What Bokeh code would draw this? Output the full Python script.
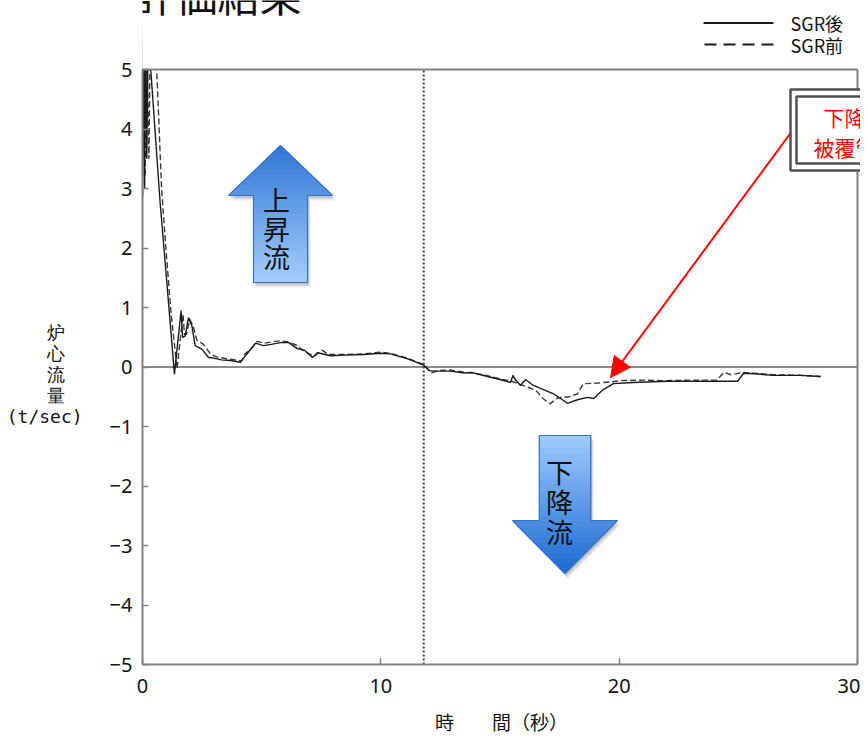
from bokeh.plotting import figure
from bokeh.models import (Range1d, FixedTicker, Label, Arrow, NormalHead, BoxAnnotation)
from bokeh.embed import file_html
from bokeh.resources import INLINE

# ---------------- data ----------------
t_after = [0.00, 0.04, 0.09, 0.13, 0.18, 0.24, 0.74, 0.95, 1.15, 1.34, 1.62, 1.68, 1.79, 1.93,
           2.07, 2.21, 2.49, 2.77, 3.00, 3.30, 3.69, 4.11, 4.32, 4.74, 5.08, 5.40, 5.79, 6.13,
           6.50, 6.80, 7.13, 7.34, 7.89, 8.50, 9.27, 9.99, 10.40, 11.10, 11.80, 12.04, 12.20,
           12.92, 13.50, 13.80, 14.18, 15.00, 15.44, 15.55, 15.65, 15.86, 16.07, 16.40, 17.25,
           17.83, 18.25, 18.67, 18.93, 19.30, 19.76, 20.60, 22.00, 24.10, 24.97, 25.22, 25.50,
           26.50, 27.60, 28.45]
q_after = [2.88, 5.80, 3.00, 5.80, 3.50, 5.60, 2.76, 1.76, 0.80, -0.12, 0.95, 0.50, 0.52, 0.83,
           0.70, 0.36, 0.30, 0.16, 0.15, 0.12, 0.11, 0.08, 0.19, 0.40, 0.36, 0.38, 0.41, 0.41,
           0.31, 0.28, 0.16, 0.24, 0.19, 0.20, 0.21, 0.23, 0.22, 0.14, 0.03, -0.06, -0.07,
           -0.07, -0.10, -0.09, -0.13, -0.21, -0.26, -0.14, -0.22, -0.31, -0.21, -0.31, -0.45,
           -0.61, -0.55, -0.51, -0.53, -0.39, -0.28, -0.26, -0.24, -0.24, -0.24, -0.11, -0.11,
           -0.14, -0.14, -0.16]

t_before = [0.00, 0.05, 0.11, 0.16, 0.27, 0.33, 0.50, 0.62, 0.80, 1.00, 1.20, 1.45, 1.58, 1.70,
            1.76, 1.85, 1.98, 2.12, 2.28, 2.56, 2.85, 3.10, 3.50, 3.90, 4.15, 4.30, 4.55, 4.80,
            5.10, 5.40, 5.75, 6.10, 6.45, 6.55, 7.00, 7.20, 7.55, 7.80, 8.50, 9.30, 10.00,
            10.40, 11.10, 11.80, 12.10, 12.40, 12.90, 13.50, 14.20, 15.00, 15.50, 15.90, 16.50,
            16.80, 17.10, 17.40, 17.90, 18.25, 18.50, 19.10, 19.64, 20.05, 21.00, 22.00, 23.00,
            24.10, 24.40, 24.70, 25.20, 25.50, 26.50, 27.60, 28.45]
q_before = [2.88, 5.60, 3.20, 5.80, 3.50, 5.70, 5.60, 4.78, 3.00, 1.90, 0.90, -0.03, 0.45, 0.88,
            0.55, 0.55, 0.80, 0.70, 0.45, 0.38, 0.22, 0.17, 0.14, 0.12, 0.10, 0.22, 0.30, 0.43,
            0.40, 0.42, 0.44, 0.42, 0.37, 0.33, 0.22, 0.18, 0.28, 0.21, 0.21, 0.22, 0.25,
            0.23, 0.15, 0.04, -0.10, -0.06, -0.05, -0.09, -0.12, -0.20, -0.24, -0.30, -0.39,
            -0.53, -0.62, -0.52, -0.50, -0.45, -0.28, -0.27, -0.25, -0.23, -0.22, -0.23, -0.22,
            -0.22, -0.09, -0.13, -0.09, -0.10, -0.13, -0.14, -0.16]

series_names = ["SGR後", "SGR前"]
x_ticks = [0, 10, 20, 30]
x_tick_labels = ["0", "10", "20", "30"]
y_ticks = [-5, -4, -3, -2, -1, 0, 1, 2, 3, 4, 5]
y_tick_labels = ["−5", "−4", "−3", "−2", "−1", "0", "1", "2", "3", "4", "5"]
x_lim = (0, 30)
y_lim = (-5, 5)
sgr_time = 11.8

title_text = "評価結果"
y_label_chars = ["炉", "心", "流", "量"]
y_label_unit = "(t/sec)"
x_label_text = "時　　間（秒）"
up_text = "上昇流"
down_text = "下降流"
note_lines = ["下降", "被覆管"]

# ---------------- layout helpers (canvas pixel -> data) ----------------
X0, XS = 142.0, 715.0 / 30.0
Y0, YS = 366.5, 59.5
W, H = 860, 739
FRAME_BOTTOM = 664


def dx(px):
    return (px - X0) / XS


def dy(py):
    return (Y0 - py) / YS


JP = "Noto Sans CJK JP"
NUM = "Noto Sans"
GRAY = "#808080"
INK = "#111111"

# frame runs to the top and right edges so the call-out, key and title can be drawn in it
p = figure(width=W, height=H, min_border_left=142, min_border_right=0,
           min_border_top=0, min_border_bottom=H - FRAME_BOTTOM,
           x_range=Range1d(x_lim[0], dx(W)), y_range=Range1d(y_lim[0], dy(0)),
           output_backend="svg", toolbar_location=None)
p.grid.visible = False
p.outline_line_color = None
p.background_fill_color = "white"
p.border_fill_color = "white"

for ax in (p.xaxis[0], p.yaxis[0]):
    ax.axis_line_color = GRAY
    ax.axis_line_width = 2
    ax.major_tick_line_color = GRAY
    ax.major_tick_line_width = 1.5
    ax.major_tick_in = 6
    ax.major_tick_out = 0
    ax.minor_tick_line_color = None
    ax.major_label_text_font = NUM
    ax.major_label_text_font_size = "20px"
    ax.major_label_text_color = INK

p.xaxis.ticker = FixedTicker(ticks=x_ticks)
p.xaxis.bounds = x_lim
p.xaxis.major_label_overrides = dict(zip(x_ticks, x_tick_labels))
p.xaxis.major_label_standoff = 14
p.xaxis.axis_label = x_label_text
p.xaxis.axis_label_text_font = JP
p.xaxis.axis_label_text_font_size = "19px"
p.xaxis.axis_label_text_font_style = "normal"
p.xaxis.axis_label_text_color = INK
p.xaxis.axis_label_standoff = 12

p.yaxis.ticker = FixedTicker(ticks=y_ticks)
p.yaxis.bounds = y_lim
p.yaxis.major_label_overrides = dict(zip(y_ticks, y_tick_labels))
p.yaxis.major_label_standoff = 10
# stacked label: leading blank lines push it below the frame centre, trailing
# ideographic spaces centre the single characters over the unit
p.yaxis.axis_label = "\n".join([" "] * 4 + [c + "\u3000" for c in y_label_chars] + [y_label_unit])
p.yaxis.axis_label_orientation = "horizontal"
p.yaxis.axis_label_text_font = "DejaVu Sans Mono"
p.yaxis.axis_label_text_font_size = "18px"
p.yaxis.axis_label_text_font_style = "normal"
p.yaxis.axis_label_text_line_height = 1.0
p.yaxis.axis_label_text_color = INK
p.yaxis.axis_label_standoff = 24

# zero line and SGR time line
p.segment(x0=[x_lim[0]], y0=[0], x1=[x_lim[1]], y1=[0], line_color="#8a8a8a", line_width=2)
p.segment(x0=[sgr_time], y0=[y_lim[0]], x1=[sgr_time], y1=[y_lim[1]],
          line_color="#444444", line_width=2, line_dash="2 2")


# ---------------- block arrows with gradient ----------------
def lerp(c0, c1, f):
    return "#%02x%02x%02x" % tuple(int(round(a + (b - a) * f)) for a, b in zip(c0, c1))


def draw_arrow(cx, y_tip, y_base, y_end, head_half, shaft_half, c_tip, c_end):
    bands = []
    n_head, n_shaft = 10, 14
    head_pts = [y_tip + (y_base - y_tip) * i / n_head for i in range(n_head + 1)]
    shaft_pts = [y_base + (y_end - y_base) * i / n_shaft for i in range(n_shaft + 1)]
    for seg, is_head in ((head_pts, True), (shaft_pts, False)):
        for a, b in zip(seg[:-1], seg[1:]):
            ha = head_half * (a - y_tip) / (y_base - y_tip) if is_head else shaft_half
            hb = head_half * (b - y_tip) / (y_base - y_tip) if is_head else shaft_half
            f = ((a + b) / 2 - y_tip) / (y_end - y_tip)
            bands.append(([cx - ha, cx + ha, cx + hb, cx - hb], [a, a, b, b],
                          lerp(c_tip, c_end, f)))
    ox = [cx, cx + head_half, cx + shaft_half, cx + shaft_half,
          cx - shaft_half, cx - shaft_half, cx - head_half]
    oy = [y_tip, y_base, y_base, y_end, y_end, y_base, y_base]
    for off, alpha in ((5, 0.07), (3.5, 0.09), (2, 0.11)):
        p.patch([dx(v + off * 0.6) for v in ox], [dy(v + off) for v in oy],
                fill_color="#000000", fill_alpha=alpha, line_color=None)
    p.patches([[dx(v) for v in b[0]] for b in bands], [[dy(v) for v in b[1]] for b in bands],
              fill_color=[b[2] for b in bands], line_color=[b[2] for b in bands],
              line_width=0.6)
    p.patch([dx(v) for v in ox], [dy(v) for v in oy], fill_alpha=0,
            line_color="#3474c4", line_width=1.2)


draw_arrow(280, 145, 195, 282, 52, 27, (45, 118, 215), (165, 205, 252))
draw_arrow(564.5, 573, 520, 435, 52.5, 25.7, (25, 105, 210), (160, 202, 252))

for i, ch in enumerate(up_text):
    p.add_layout(Label(x=dx(276), y=dy(199 + 28.5 * i), text=ch, text_font=JP,
                       text_font_size="27px", text_align="center",
                       text_baseline="middle", text_color=INK))
for i, ch in enumerate(down_text):
    p.add_layout(Label(x=dx(559), y=dy(470.5 + 30 * i), text=ch, text_font=JP,
                       text_font_size="27px", text_align="center",
                       text_baseline="middle", text_color=INK))

# ---------------- data lines ----------------
p.line(t_before, q_before, line_color="#3a3a3a", line_width=1.4, line_dash="6 3")
p.line(t_after, q_after, line_color="#1a1a1a", line_width=1.4)

# values above the top of the scale are hidden, as by the original plot frame
p.quad(left=[x_lim[0] - 1], right=[dx(W) + 1], bottom=[y_lim[1]], top=[dy(-10)],
       fill_color="white", line_color=None)
# frame top / right lines
p.segment(x0=[x_lim[0], x_lim[1]], y0=[y_lim[1], y_lim[0]], x1=[x_lim[1], x_lim[1]],
          y1=[y_lim[1], y_lim[1]], line_color=GRAY, line_width=2)

# key (drawn in the area above the scale)
p.segment(x0=[dx(703)], y0=[dy(22.5)], x1=[dx(773)], y1=[dy(22.5)],
          line_color="#1a1a1a", line_width=2)
p.segment(x0=[dx(704)], y0=[dy(44)], x1=[dx(774)], y1=[dy(44)],
          line_color="#1a1a1a", line_width=2, line_dash="12 7")
p.add_layout(Label(x=dx(790), y=dy(22.5), text=series_names[0], text_font=JP,
                   text_font_size="18px", text_baseline="middle", text_color=INK))
p.add_layout(Label(x=dx(790), y=dy(44.5), text=series_names[1], text_font=JP,
                   text_font_size="18px", text_baseline="middle", text_color=INK))

# ---------------- red call-out ----------------
p.add_layout(Arrow(x_start=dx(792), y_start=dy(130), x_end=dx(610), y_end=dy(377),
                   line_color="#ff0000", line_width=2,
                   end=NormalHead(size=20, fill_color="#ff0000", line_color="#ff0000")))
p.add_layout(BoxAnnotation(left=dx(790), right=dx(W + 20), top=dy(89), bottom=dy(170),
                           fill_color="white", fill_alpha=1, line_color="#505050",
                           line_alpha=1, line_width=2.5))
p.add_layout(BoxAnnotation(left=dx(796), right=dx(W + 20), top=dy(96), bottom=dy(163),
                           fill_alpha=0, line_color="#505050", line_alpha=1,
                           line_width=2.5))
p.add_layout(Label(x=dx(823), y=dy(116), text=note_lines[0], text_font=JP,
                   text_font_size="21px", text_color="#ff0000", text_baseline="middle"))
p.add_layout(Label(x=dx(813), y=dy(146), text=note_lines[1], text_font=JP,
                   text_font_size="21px", text_color="#ff0000", text_baseline="middle"))

# ---------------- title (cut by the top edge as in the slide) ----------------
p.add_layout(Label(x=dx(133), y=dy(-7), text=title_text, text_font=JP,
                   text_font_size="42px", text_color=INK, text_baseline="middle"))

open("out.html", "w").write(file_html(p, INLINE))
